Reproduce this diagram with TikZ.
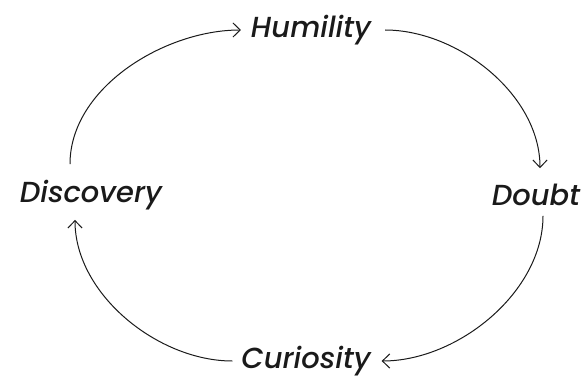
\documentclass[tikz,border=0pt]{standalone}
\usepackage{fontspec}
\setmainfont{Poppins}[ItalicFont=Poppins Medium Italic]
\usetikzlibrary{arrows.meta}
\definecolor{CycleInk}{HTML}{1A1A1A}
\tikzset{
  every node/.style={font=\fontsize{29}{32}\selectfont\itshape, text=CycleInk},
  stage/.style={inner sep=0pt, outer sep=0pt},
  loop/.style={-{Straight Barb[length=2.6mm,width=5mm]}, draw=CycleInk, line width=1pt},
}
\begin{document}
\begin{tikzpicture}[x=1pt,y=1pt]
  \useasboundingbox (0,0) rectangle (583,378);

  % Four stages of the cycle
  \node[stage] (hum) at (311,348) {Humility};
  \node[stage] (doubt) at (536,183) {Doubt};
  \node[stage] (cur) at (306,17) {Curiosity};
  \node[stage] (disc) at (91,183) {Discovery};

  % Arrows round the cycle
  \coordinate (humR) at ([xshift=14pt]hum.east);
  \coordinate (humL) at ([xshift=-10pt]hum.west);
  \coordinate (doubtT) at ([xshift=4pt,yshift=16pt]doubt.north);
  \coordinate (doubtB) at ([xshift=7pt,yshift=-10pt]doubt.south);
  \coordinate (curR) at ([xshift=11pt]cur.east);
  \coordinate (curL) at ([xshift=-9pt]cur.west);
  \coordinate (discB) at ([xshift=-16pt,yshift=-10pt]disc.south);
  \coordinate (discT) at ([xshift=-21pt,yshift=16pt]disc.north);

  \draw[loop] (humR) to[out=0, in=90, looseness=0.9] (doubtT);
  \draw[loop] (doubtB) to[out=-90, in=0, looseness=0.9] (curR);
  \draw[loop] (curL) to[out=180, in=-90, looseness=0.9] (discB);
  \draw[loop] (discT) to[out=90, in=180, looseness=0.9] (humL);
\end{tikzpicture}
\end{document}
